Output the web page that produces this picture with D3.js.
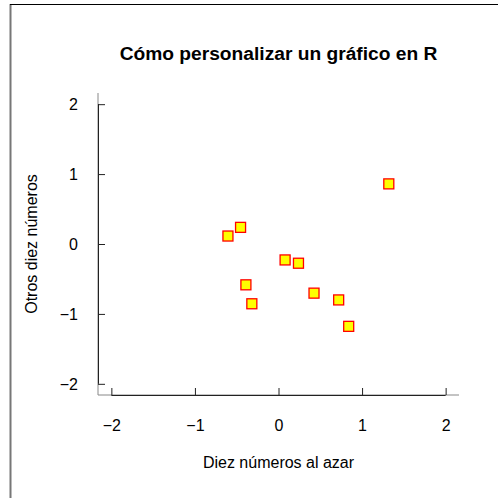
<!DOCTYPE html>
<html><head><meta charset="utf-8">
<script src="https://cdn.jsdelivr.net/npm/d3@7"></script>
<style>body{margin:0;background:#fff}svg{display:block}</style>
</head><body>
<script>
const xValues = [1.32, -0.454, -0.605, 0.079, 0.239, -0.39, -0.319, 0.425, 0.72, 0.84];
const yValues = [0.86, 0.238, 0.114, -0.228, -0.275, -0.584, -0.855, -0.703, -0.80, -1.178];
const xTicks = [-2, -1, 0, 1, 2];
const yTicks = [-2, -1, 0, 1, 2];
const title = "Cómo personalizar un gráfico en R";
const xTitle = "Diez números al azar";
const yTitle = "Otros diez números";

const W = 498, H = 498;
const plot = {left: 98, right: 459, top: 93, bottom: 395};
const svg = d3.select("body").append("svg").attr("width", W).attr("height", H);
const font = "'Liberation Sans', Arial, sans-serif";

const x = d3.scaleLinear().domain([-2.16, 2.16]).range([plot.left, plot.right]);
const y = d3.scaleLinear().domain([-2.16, 2.16]).range([plot.bottom, plot.top]);

// partial figure frame
svg.append("line").attr("x1", 10.5).attr("x2", 10.5).attr("y1", 4).attr("y2", H)
  .attr("stroke", "#777").attr("stroke-width", 2);
svg.append("line").attr("x1", 10).attr("x2", W).attr("y1", 4.5).attr("y2", 4.5)
  .attr("stroke", "#000").attr("stroke-width", 1);

// L box
svg.append("path").attr("d", `M${plot.left},${plot.top}V${plot.bottom}H${plot.right}`)
  .attr("fill", "none").attr("stroke", "#888").attr("stroke-width", 1);

// axes
const fmt = d => d < 0 ? "\u2212" + Math.abs(d) : d;
const xAxis = d3.axisBottom(x).tickValues(xTicks).tickSizeInner(-7).tickSizeOuter(0).tickFormat(fmt);
const gx = svg.append("g").attr("transform", `translate(0,${plot.bottom})`).call(xAxis);
gx.select(".domain").attr("d", `M${x(-2)},0.5H${x(2)}`).attr("stroke", "#222");
gx.selectAll(".tick line").attr("stroke", "#222");
gx.selectAll("text").attr("font-family", font).attr("font-size", 16).attr("fill", "#000")
  .attr("y", 36).attr("dy", 0);

const yAxis = d3.axisLeft(y).tickValues(yTicks).tickSizeInner(-7).tickSizeOuter(0).tickFormat(fmt);
const gy = svg.append("g").attr("transform", `translate(${plot.left},0)`).call(yAxis);
gy.select(".domain").attr("d", `M0.5,${y(2)}V${y(-2)}`).attr("stroke", "#222");
gy.selectAll(".tick line").attr("stroke", "#222");
gy.selectAll("text").attr("font-family", font).attr("font-size", 16).attr("fill", "#000")
  .attr("x", -20).attr("dy", "0.35em");

// points
svg.append("g").selectAll("rect").data(xValues.map((v, i) => [v, yValues[i]])).join("rect")
  .attr("x", d => x(d[0]) - 5).attr("y", d => y(d[1]) - 5)
  .attr("width", 10).attr("height", 10)
  .attr("fill", "#ffff00").attr("stroke", "#ff0000").attr("stroke-width", 1.3);

// titles
svg.append("text").attr("x", (plot.left + plot.right) / 2).attr("y", 60)
  .attr("text-anchor", "middle").attr("font-family", font).attr("font-weight", "bold")
  .attr("font-size", 19.2).text(title);
svg.append("text").attr("x", (plot.left + plot.right) / 2).attr("y", 468)
  .attr("text-anchor", "middle").attr("font-family", font)
  .attr("font-size", 16).text(xTitle);
svg.append("text").attr("transform", `translate(37,${(plot.top + plot.bottom) / 2}) rotate(-90)`)
  .attr("text-anchor", "middle").attr("font-family", font)
  .attr("font-size", 16).text(yTitle);
</script>
</body></html>
